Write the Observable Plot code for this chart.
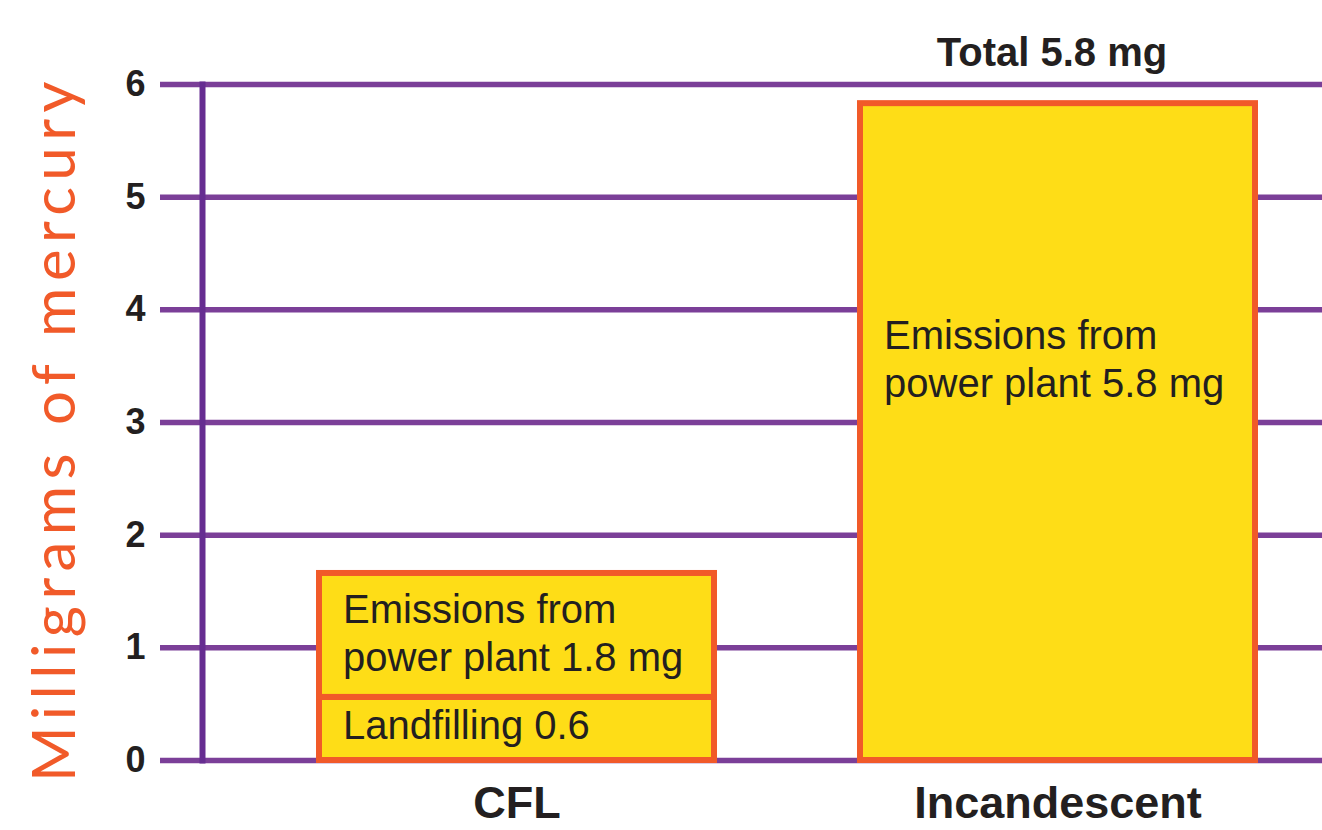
<!DOCTYPE html>
<html><head><meta charset="utf-8">
<script src="https://cdn.jsdelivr.net/npm/d3@7"></script>
<script src="https://cdn.jsdelivr.net/npm/@observablehq/plot@0.6"></script>
<style>body{margin:0;background:#fff}</style>
</head><body><div id="chart"></div>
<script>
// Data
const categories = ["CFL", "Incandescent"];
const segBulb = ["CFL", "CFL", "Incandescent"];
const segSource = ["Landfilling", "Emissions from power plant", "Emissions from power plant"];
const segValue = [0.56, 1.10, 5.83];
const segLabel = ["Landfilling 0.6", "Emissions from\npower plant 1.8 mg", "Emissions from\npower plant 5.8 mg"];
const segLabelY = [0.33, 1.14, 3.58];
const totalBulb = ["Incandescent"];
const totalValue = [5.83];
const totalLabel = ["Total 5.8 mg"];
const yTicks = [0, 1, 2, 3, 4, 5, 6];
const yTitle = "Milligrams of mercury";

const segments = segBulb.map((b, i) => ({bulb: b, source: segSource[i], value: segValue[i], label: segLabel[i], ly: segLabelY[i]}));
const totals = totalBulb.map((b, i) => ({bulb: b, value: totalValue[i], label: totalLabel[i]}));

const chart = Plot.plot({
  width: 1322,
  height: 830,
  marginTop: 84,
  marginBottom: 70,
  marginLeft: 160,
  marginRight: 0,
  style: {fontFamily: "'Liberation Sans', Arial, sans-serif", color: "#231f20", background: "#fff"},
  x: {domain: categories, paddingInner: 0.2696, paddingOuter: 0.2078, align: 0.702, label: null},
  y: {domain: [0, 6], label: null},
  marks: [
    Plot.ruleY(yTicks, {stroke: "#7b3f98", strokeWidth: 5.5}),
    Plot.frame({anchor: "left", dx: 42, stroke: "#662d91", strokeWidth: 6}),
    Plot.barY(segments, {x: "bulb", y: "value", fill: "#fedd17", stroke: "#f15a29", strokeWidth: 6}),
    Plot.text(segments, {x: "bulb", y: "ly", text: "label", textAnchor: "start", lineAnchor: "middle", dx: -174, fontSize: 40, lineHeight: 1.2, fill: "#231f20"}),
    Plot.text(totals, {x: "bulb", y: "value", text: "label", lineAnchor: "bottom", dy: -38, dx: -6, fontSize: 40, fontWeight: "bold", fill: "#231f20"}),
    Plot.axisY(yTicks, {tickSize: 0, tickPadding: 15, fontSize: 36, fontWeight: "bold", label: null, tickFormat: d3.format("d"), fill: "#231f20"}),
    Plot.axisX({tickSize: 0, tickPadding: 26, fontSize: 45, fontWeight: "bold", label: null, fill: "#231f20"}),
    Plot.text([yTitle], {frameAnchor: "left", textAnchor: "middle", rotate: -90, dx: -105, dy: 6, fontSize: 60, fontFamily: "Lato, sans-serif", fontWeight: 400, fill: "#f15a29", text: d => d})
  ]
});
d3.select(chart).selectAll("text")
  .filter(function () { return this.textContent === yTitle; })
  .attr("letter-spacing", "6.5px");
document.getElementById("chart").appendChild(chart);
</script>
</body></html>
